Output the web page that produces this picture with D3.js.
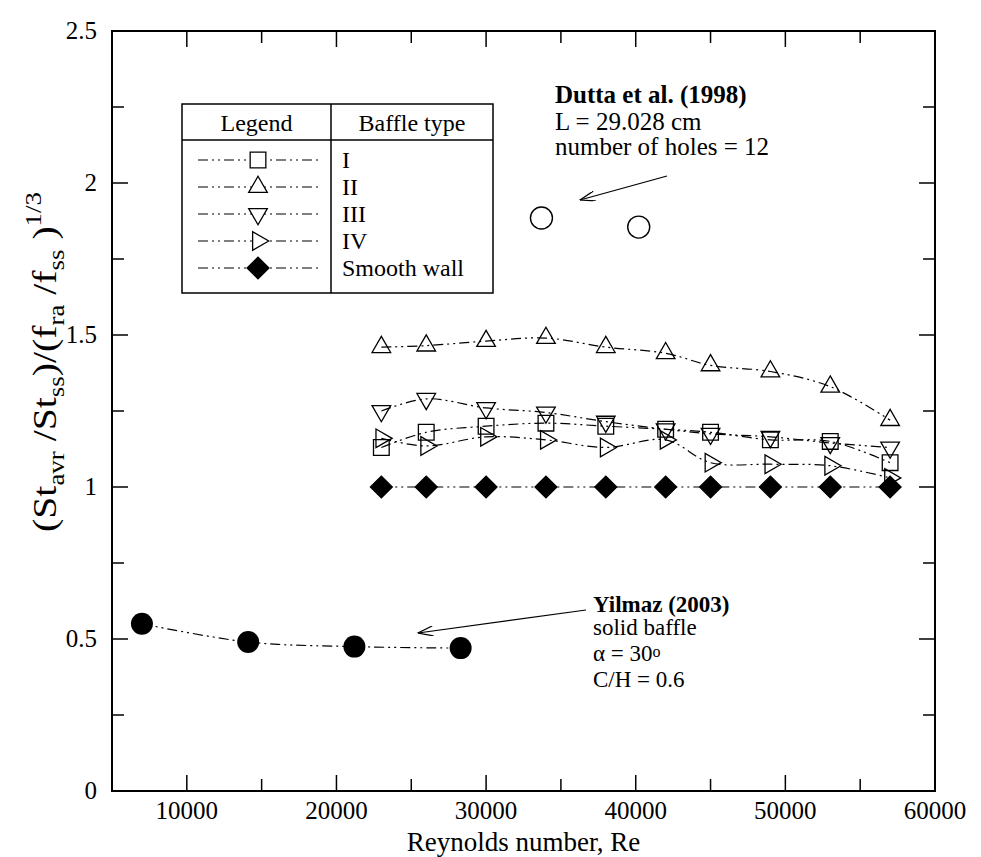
<!DOCTYPE html>
<html>
<head>
<meta charset="utf-8">
<script src="https://cdn.jsdelivr.net/npm/d3@7"></script>
<style>
  html, body { margin: 0; padding: 0; background: #fff; }
  svg { display: block; font-family: "Liberation Serif", "DejaVu Serif", serif; }
</style>
</head>
<body>
<div id="chart"></div>
<script>
// ---- data ----
const reBaffle = [23000, 26000, 30000, 34000, 38000, 42000, 45000, 49000, 53000, 57000];
const typeI    = [1.13, 1.18, 1.20, 1.21, 1.20, 1.19, 1.18, 1.155, 1.15, 1.08];
const typeII   = [1.46, 1.465, 1.48, 1.49, 1.46, 1.44, 1.40, 1.38, 1.33, 1.22];
const typeIII  = [1.25, 1.29, 1.26, 1.245, 1.215, 1.19, 1.175, 1.165, 1.145, 1.13];
const typeIV   = [1.16, 1.135, 1.165, 1.155, 1.13, 1.155, 1.08, 1.075, 1.07, 1.03];
const smooth   = [1, 1, 1, 1, 1, 1, 1, 1, 1, 1];

const reYilmaz  = [7000, 14100, 21200, 28300];
const valYilmaz = [0.55, 0.49, 0.475, 0.47];

const reDutta  = [33700, 40200];
const valDutta = [1.885, 1.855];

const xTickLabels = [10000, 20000, 30000, 40000, 50000, 60000];
const yTickLabels = [0, 0.5, 1, 1.5, 2, 2.5];

const legendNames = ['I', 'II', 'III', 'IV', 'Smooth wall'];
const legendHead  = ['Legend', 'Baffle type'];

(function () {
  const W = 981, H = 857;
  const svg = d3.select('#chart').append('svg')
    .attr('width', W).attr('height', H)
    .attr('viewBox', `0 0 ${W} ${H}`);

  const x = d3.scaleLinear().domain([5000, 60000]).range([112, 935]);
  const y = d3.scaleLinear().domain([0, 2.5]).range([791, 31]);

  const dash = '10,4,2,4,2,4';
  const fs = 25;

  // symbols
  const sym = {
    square:  d3.symbol(d3.symbolSquare, 246)(),
    tri:     d3.symbol(d3.symbolTriangle, 150)(),
    diamond: d3.symbol(d3.symbolSquare, 240)()
  };
  const kinds = [
    { vals: typeI,   path: sym.square,  rot: 0,   fill: 'none' },
    { vals: typeII,  path: sym.tri,     rot: 0,   fill: 'none' },
    { vals: typeIII, path: sym.tri,     rot: 180, fill: 'none' },
    { vals: typeIV,  path: sym.tri,     rot: 90,  fill: 'none' },
    { vals: smooth,  path: sym.diamond, rot: 45,  fill: '#000' }
  ];

  const line = d3.line()
    .x(d => x(d[0]))
    .y(d => y(d[1]))
    .curve(d3.curveCatmullRom.alpha(0.5));

  const plot = svg.append('g');

  // series lines
  kinds.forEach(k => {
    plot.append('path')
      .attr('d', line(reBaffle.map((r, i) => [r, k.vals[i]])))
      .attr('fill', 'none').attr('stroke', '#000')
      .attr('stroke-width', 1.2).attr('stroke-dasharray', dash);
  });
  plot.append('path')
    .attr('d', line(reYilmaz.map((r, i) => [r, valYilmaz[i]])))
    .attr('fill', 'none').attr('stroke', '#000')
    .attr('stroke-width', 1.2).attr('stroke-dasharray', dash);

  // markers
  kinds.forEach(k => {
    plot.append('g').selectAll('path').data(reBaffle).join('path')
      .attr('d', k.path)
      .attr('transform', (r, i) => `translate(${x(r)},${y(k.vals[i])}) rotate(${k.rot})`)
      .attr('fill', k.fill).attr('stroke', '#000').attr('stroke-width', 1.3);
  });
  plot.append('g').selectAll('circle').data(reYilmaz).join('circle')
    .attr('cx', d => x(d)).attr('cy', (d, i) => y(valYilmaz[i]))
    .attr('r', 11).attr('fill', '#000');
  plot.append('g').selectAll('circle').data(reDutta).join('circle')
    .attr('cx', d => x(d)).attr('cy', (d, i) => y(valDutta[i]))
    .attr('r', 11).attr('fill', 'none').attr('stroke', '#000').attr('stroke-width', 1.4);

  // frame + inward ticks on all sides
  const [x0, x1] = x.range(), [y0, y1] = y.range();
  svg.append('rect')
    .attr('x', x0).attr('y', y1).attr('width', x1 - x0).attr('height', y0 - y1)
    .attr('fill', 'none').attr('stroke', '#000').attr('stroke-width', 2);

  const xt = d3.range(5000, 60001, 5000);
  const yt = d3.range(0, 2.5001, 0.25);
  const tg = svg.append('g').attr('stroke', '#000').attr('stroke-width', 1.5);
  xt.forEach(v => {
    const len = v % 10000 === 0 ? 16 : 12;
    tg.append('line').attr('x1', x(v)).attr('x2', x(v)).attr('y1', y0).attr('y2', y0 - len);
    tg.append('line').attr('x1', x(v)).attr('x2', x(v)).attr('y1', y1).attr('y2', y1 + len);
  });
  yt.forEach(v => {
    const len = Math.abs(v * 2 - Math.round(v * 2)) < 1e-6 ? 16 : 12;
    tg.append('line').attr('x1', x0).attr('x2', x0 + len).attr('y1', y(v)).attr('y2', y(v));
    tg.append('line').attr('x1', x1).attr('x2', x1 - len).attr('y1', y(v)).attr('y2', y(v));
  });

  // tick labels
  svg.append('g').selectAll('text').data(xTickLabels).join('text')
    .attr('x', d => x(d)).attr('y', 819)
    .attr('text-anchor', 'middle').attr('font-size', fs)
    .text(d => d);
  svg.append('g').selectAll('text').data(yTickLabels).join('text')
    .attr('x', 97).attr('y', d => y(d) + 8)
    .attr('text-anchor', 'end').attr('font-size', fs)
    .text(d => d);

  // axis titles
  svg.append('text')
    .attr('x', (x0 + x1) / 2).attr('y', 851)
    .attr('text-anchor', 'middle').attr('font-size', 27)
    .text('Reynolds number, Re');

  const yt1 = svg.append('text')
    .attr('text-anchor', 'middle').attr('font-size', 34);
  const parts = [
    ['(St', 0], ['avr', 1], [' /St', 0], ['ss', 1], [')/(f', 0], ['ra', 1],
    [' /f', 0], ['ss', 1], [' )', 0], ['1/3', 2]
  ];
  let prev = 0;
  parts.forEach(([t, k]) => {
    const shift = k === 1 ? 8 : k === 2 ? -15 : 0;
    yt1.append('tspan')
      .attr('dy', shift - prev)
      .attr('font-size', k ? 23 : 34)
      .text(t);
    prev = shift;
  });
  // stretch a little along its length to the reference's span
  const wy = yt1.node().getComputedTextLength();
  yt1.attr('transform', `translate(56,362) rotate(-90) scale(${340 / wy},1)`);

  // legend table
  const L = { x0: 182, x1: 493, xm: 331, top: 104, head: 140, bottom: 293 };
  const lg = svg.append('g');
  lg.append('rect').attr('x', L.x0).attr('y', L.top)
    .attr('width', L.x1 - L.x0).attr('height', L.bottom - L.top)
    .attr('fill', '#fff').attr('stroke', '#000').attr('stroke-width', 1.5);
  lg.append('line').attr('x1', L.x0).attr('x2', L.x1).attr('y1', L.head).attr('y2', L.head)
    .attr('stroke', '#000').attr('stroke-width', 1.5);
  lg.append('line').attr('x1', L.xm).attr('x2', L.xm).attr('y1', L.top).attr('y2', L.bottom)
    .attr('stroke', '#000').attr('stroke-width', 1.5);
  lg.append('text').attr('x', (L.x0 + L.xm) / 2).attr('y', L.head - 9)
    .attr('text-anchor', 'middle').attr('font-size', 24).text(legendHead[0]);
  lg.append('text').attr('x', (L.xm + L.x1) / 2).attr('y', L.head - 9)
    .attr('text-anchor', 'middle').attr('font-size', 24).text(legendHead[1]);

  const rowY = d3.scalePoint().domain(legendNames).range([160, 268]);
  legendNames.forEach((name, i) => {
    const k = kinds[i], cy = rowY(name);
    lg.append('line').attr('x1', 198).attr('x2', 320).attr('y1', cy).attr('y2', cy)
      .attr('stroke', '#000').attr('stroke-width', 1.2).attr('stroke-dasharray', dash);
    lg.append('path').attr('d', k.path)
      .attr('transform', `translate(258,${cy}) rotate(${k.rot})`)
      .attr('fill', k.fill === 'none' ? '#fff' : k.fill)
      .attr('stroke', '#000').attr('stroke-width', 1.3);
    lg.append('text').attr('x', 342).attr('y', cy + 8)
      .attr('font-size', 24).text(name);
  });

  // annotations
  const marker = svg.append('defs').append('marker')
    .attr('id', 'ah').attr('viewBox', '0 0 12 8').attr('refX', 12).attr('refY', 4)
    .attr('markerWidth', 16).attr('markerHeight', 10).attr('markerUnits', 'userSpaceOnUse')
    .attr('orient', 'auto');
  marker.append('path').attr('d', 'M0,0 L12,4 L0,8').attr('fill', 'none')
    .attr('stroke', '#000').attr('stroke-width', 1);

  const ann = svg.append('g').attr('font-size', 25);
  ann.append('text').attr('x', 555).attr('y', 103).attr('font-weight', 'bold').text('Dutta et al. (1998)');
  ann.append('text').attr('x', 555).attr('y', 130).text('L = 29.028 cm');
  ann.append('text').attr('x', 555).attr('y', 155).text('number of holes = 12');
  svg.append('line').attr('x1', 667).attr('y1', 176).attr('x2', 580).attr('y2', 200)
    .attr('stroke', '#000').attr('stroke-width', 1.2).attr('marker-end', 'url(#ah)');

  const yl = svg.append('g').attr('font-size', 23);
  yl.append('text').attr('x', 593).attr('y', 612).attr('font-weight', 'bold').text('Yilmaz (2003)');
  yl.append('text').attr('x', 593).attr('y', 635).text('solid baffle');
  const a = yl.append('text').attr('x', 593).attr('y', 661);
  a.append('tspan').text('\u03b1 = 30');
  a.append('tspan').attr('font-size', 16).attr('dy', -4).text('o');
  yl.append('text').attr('x', 593).attr('y', 687).text('C/H = 0.6');
  svg.append('line').attr('x1', 586).attr('y1', 610).attr('x2', 418).attr('y2', 633)
    .attr('stroke', '#000').attr('stroke-width', 1.2).attr('marker-end', 'url(#ah)');
})();
</script>
</body>
</html>
